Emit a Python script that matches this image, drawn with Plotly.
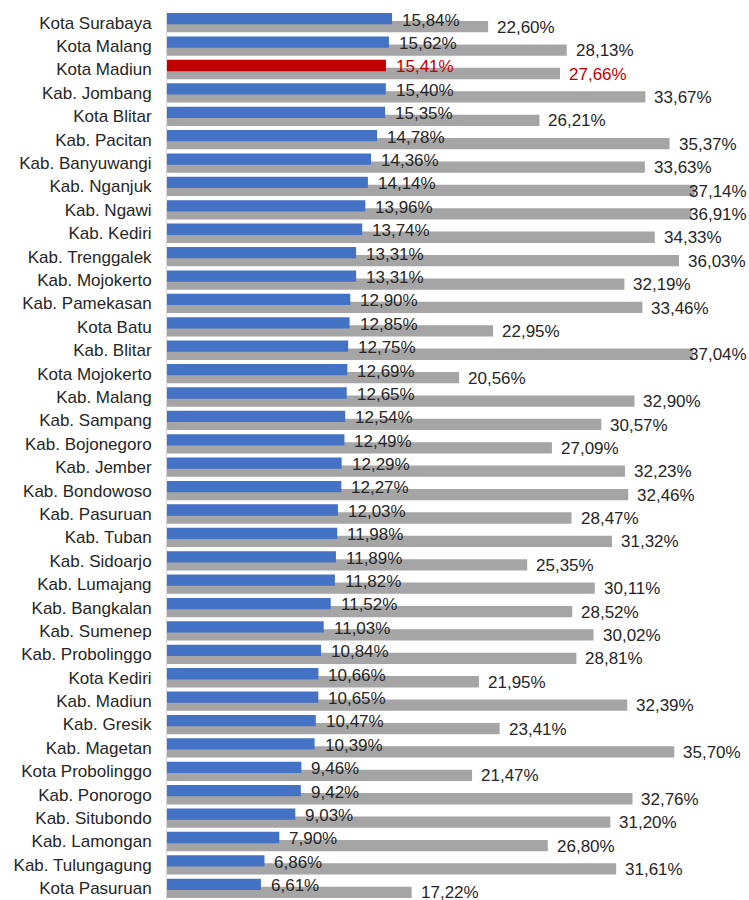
import plotly.graph_objects as go

# Regions of East Java (sorted by the first indicator)
regions = [
    "Kota Surabaya", "Kota Malang", "Kota Madiun", "Kab. Jombang", "Kota Blitar",
    "Kab. Pacitan", "Kab. Banyuwangi", "Kab. Nganjuk", "Kab. Ngawi", "Kab. Kediri",
    "Kab. Trenggalek", "Kab. Mojokerto", "Kab. Pamekasan", "Kota Batu", "Kab. Blitar",
    "Kota Mojokerto", "Kab. Malang", "Kab. Sampang", "Kab. Bojonegoro", "Kab. Jember",
    "Kab. Bondowoso", "Kab. Pasuruan", "Kab. Tuban", "Kab. Sidoarjo", "Kab. Lumajang",
    "Kab. Bangkalan", "Kab. Sumenep", "Kab. Probolinggo", "Kota Kediri", "Kab. Madiun",
    "Kab. Gresik", "Kab. Magetan", "Kota Probolinggo", "Kab. Ponorogo", "Kab. Situbondo",
    "Kab. Lamongan", "Kab. Tulungagung", "Kota Pasuruan",
]

# First series (blue bars), percent
series_a = [
    15.84, 15.62, 15.41, 15.40, 15.35,
    14.78, 14.36, 14.14, 13.96, 13.74,
    13.31, 13.31, 12.90, 12.85, 12.75,
    12.69, 12.65, 12.54, 12.49, 12.29,
    12.27, 12.03, 11.98, 11.89, 11.82,
    11.52, 11.03, 10.84, 10.66, 10.65,
    10.47, 10.39, 9.46, 9.42, 9.03,
    7.90, 6.86, 6.61,
]

# Second series (grey bars), percent
series_b = [
    22.60, 28.13, 27.66, 33.67, 26.21,
    35.37, 33.63, 37.14, 36.91, 34.33,
    36.03, 32.19, 33.46, 22.95, 37.04,
    20.56, 32.90, 30.57, 27.09, 32.23,
    32.46, 28.47, 31.32, 25.35, 30.11,
    28.52, 30.02, 28.81, 21.95, 32.39,
    23.41, 35.70, 21.47, 32.76, 31.20,
    26.80, 31.61, 17.22,
]

highlight = "Kota Madiun"

BLUE = "#4472C4"
GREY = "#A5A5A5"
RED = "#C00000"
TEXT = "#262626"
FONT = "Liberation Sans, Arial, sans-serif"

# Labels of the longest bars are pulled back so they stay inside the chart
LABEL_X_MAX = 36.1


def fmt(v):
    return f"{v:.2f}".replace(".", ",") + "%"


blue_colors = [RED if r == highlight else BLUE for r in regions]
label_colors = [RED if r == highlight else TEXT for r in regions]

fig = go.Figure()

# Grey bars sit slightly lower and are drawn first so the blue ones overlap them
fig.add_trace(go.Bar(
    y=regions, x=series_b, orientation="h",
    marker=dict(color=GREY, line=dict(width=0)),
    offset=-0.07, width=0.483,
    hoverinfo="skip", showlegend=False,
))
fig.add_trace(go.Bar(
    y=regions, x=series_a, orientation="h",
    marker=dict(color=blue_colors, line=dict(width=0)),
    offset=-0.4125, width=0.483,
    hoverinfo="skip", showlegend=False,
))

annotations = []
for r, a, b, c in zip(regions, series_a, series_b, label_colors):
    annotations.append(dict(
        x=a, y=r, xref="x", yref="y", text=fmt(a), showarrow=False,
        xanchor="left", yanchor="middle", xshift=8, yshift=2.6,
        font=dict(family=FONT, size=17, color=c),
    ))
    annotations.append(dict(
        x=min(b, LABEL_X_MAX), y=r, xref="x", yref="y", text=fmt(b),
        showarrow=False,
        xanchor="left", yanchor="middle", xshift=7, yshift=-4.6,
        font=dict(family=FONT, size=17, color=c),
    ))

n = len(regions)
fig.update_layout(
    width=749, height=900,
    margin=dict(l=167, r=0, t=10.6, b=0),
    barmode="overlay",
    plot_bgcolor="white", paper_bgcolor="white",
    annotations=annotations,
    xaxis=dict(range=[0, 40.96], visible=False, showgrid=False, zeroline=False),
    yaxis=dict(
        type="category", autorange=False, range=[n - 0.5, -0.5],
        showline=True, linecolor="#D9D9D9", linewidth=1,
        showgrid=False, zeroline=False, ticks="",
        ticklabelstandoff=11,
        tickfont=dict(family=FONT, size=17, color=TEXT),
    ),
)

fig.write_html("out.html")
